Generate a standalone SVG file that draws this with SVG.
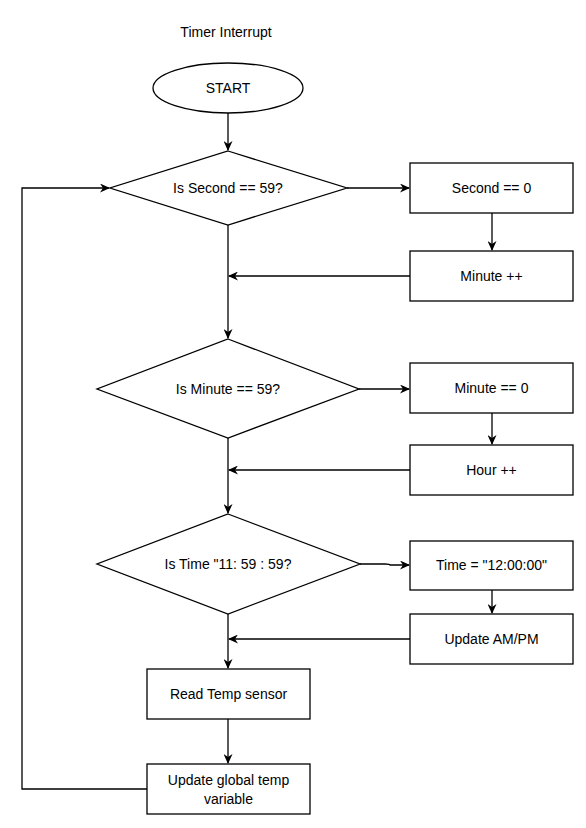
<svg xmlns="http://www.w3.org/2000/svg" width="586" height="828" viewBox="0 0 586 828">
<style>
.s{fill:#fff;stroke:#000;stroke-width:1.3}
.t{font-family:"Liberation Sans",Arial,Helvetica,sans-serif;font-size:14px;fill:#000;text-anchor:middle;dominant-baseline:central}
.c{fill:none;stroke:#000;stroke-width:1.3}
</style>
<defs>
<marker id="a" viewBox="0 0 10 9" refX="9" refY="4.5" markerWidth="10" markerHeight="9" markerUnits="userSpaceOnUse" orient="auto">
<path d="M0,0 L10,4.5 L0,9 L3,4.5 Z" fill="#000"/>
</marker>
</defs>
<rect width="586" height="828" fill="#fff"/>
<g id="connectors">
<path class="c" d="M228,113 V150" marker-end="url(#a)"/>
<path class="c" d="M347,188 H409" marker-end="url(#a)"/>
<path class="c" d="M492,213 V250" marker-end="url(#a)"/>
<path class="c" d="M410,276 H229" marker-end="url(#a)"/>
<path class="c" d="M228,225 V338" marker-end="url(#a)"/>
<path class="c" d="M359,389 H409" marker-end="url(#a)"/>
<path class="c" d="M492,413 V444" marker-end="url(#a)"/>
<path class="c" d="M410,470 H229" marker-end="url(#a)"/>
<path class="c" d="M228,438 V513" marker-end="url(#a)"/>
<path class="c" d="M360,564 H385 Q390,564 390,565 H409" marker-end="url(#a)"/>
<path class="c" d="M492,590 V613" marker-end="url(#a)"/>
<path class="c" d="M410,639 H229" marker-end="url(#a)"/>
<path class="c" d="M228,614 V668" marker-end="url(#a)"/>
<path class="c" d="M228,719 V763" marker-end="url(#a)"/>
<path class="c" d="M147,789 H22 V188 H109" marker-end="url(#a)"/>
</g>
<g id="title"><text class="t" x="226" y="32">Timer Interrupt</text></g>
<g id="start"><ellipse class="s" cx="228" cy="88" rx="75" ry="25"/><text class="t" x="228" y="88">START</text></g>
<g id="d1"><polygon class="s" points="228,151 347,188 228,225 110,188"/><text class="t" x="228" y="188">Is Second == 59?</text></g>
<g id="r1"><rect class="s" x="410" y="163" width="163" height="50"/><text class="t" x="491.5" y="188">Second == 0</text></g>
<g id="r2"><rect class="s" x="410" y="251" width="163" height="50"/><text class="t" x="491.5" y="276">Minute ++</text></g>
<g id="d2"><polygon class="s" points="228,339 359,389 228,438 97,389"/><text class="t" x="228" y="389">Is Minute == 59?</text></g>
<g id="r3"><rect class="s" x="410" y="363" width="163" height="50"/><text class="t" x="491.5" y="388">Minute == 0</text></g>
<g id="r4"><rect class="s" x="410" y="445" width="163" height="50"/><text class="t" x="491.5" y="470">Hour ++</text></g>
<g id="d3"><polygon class="s" points="228,514 360,564 228,614 97,564"/><text class="t" x="228" y="564">Is Time "11: 59 : 59?</text></g>
<g id="r5"><rect class="s" x="410" y="541" width="163" height="49"/><text class="t" x="491.5" y="565">Time = "12:00:00"</text></g>
<g id="r6"><rect class="s" x="410" y="614" width="163" height="50"/><text class="t" x="491.5" y="639">Update AM/PM</text></g>
<g id="r7"><rect class="s" x="147" y="669" width="163" height="50"/><text class="t" x="228.5" y="694">Read Temp sensor</text></g>
<g id="r8"><rect class="s" x="147" y="764" width="163" height="50"/><text class="t" x="228.5" y="780">Update global temp</text><text class="t" x="228.5" y="799">variable</text></g>
</svg>
